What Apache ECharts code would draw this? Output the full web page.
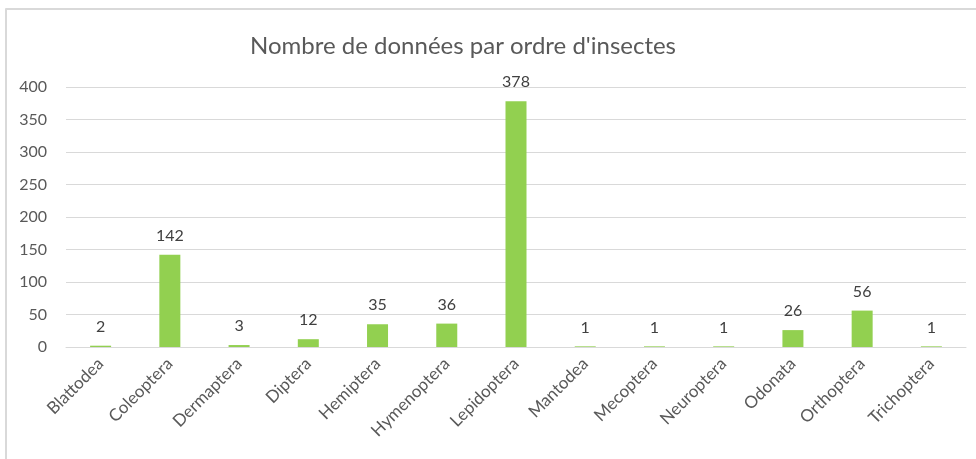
<!DOCTYPE html>
<html>
<head>
<meta charset="utf-8">
<script src="https://cdn.jsdelivr.net/npm/echarts@6/dist/echarts.min.js"></script>
<style>
  html, body { margin: 0; padding: 0; background: #fff; }
  #chart { width: 976px; height: 459px; }
</style>
</head>
<body>
<div id="chart"></div>
<script>
// Données
const orders = ['Blattodea', 'Coleoptera', 'Dermaptera', 'Diptera', 'Hemiptera', 'Hymenoptera',
  'Lepidoptera', 'Mantodea', 'Mecoptera', 'Neuroptera', 'Odonata', 'Orthoptera', 'Trichoptera']
const counts = [2, 142, 3, 12, 35, 36, 378, 1, 1, 1, 26, 56, 1]
const titleText = "Nombre de données par ordre d'insectes"

const font = 'Lato, "Open Sans", sans-serif'
const textColor = '#595959'
const gridColor = '#d9d9d9'

const myChart = echarts.init(document.getElementById('chart'))

const option = {
  animation: false,
  textStyle: { fontFamily: font },
  title: {
    text: titleText,
    left: 458,
    top: 29,
    textAlign: 'center',
    textStyle: { fontFamily: font, fontSize: 24, fontWeight: 'normal', color: textColor }
  },
  // cadre du graphique (coin haut gauche visible)
  graphic: [
    { type: 'line', shape: { x1: 5.5, y1: 9, x2: 976, y2: 9 }, style: { stroke: gridColor, lineWidth: 2 } },
    { type: 'line', shape: { x1: 6, y1: 8.5, x2: 6, y2: 459 }, style: { stroke: gridColor, lineWidth: 2 } }
  ],
  grid: { left: 66, right: 10, top: 87, bottom: 112 },
  xAxis: {
    type: 'category',
    data: orders,
    axisLine: { lineStyle: { color: gridColor, width: 1 } },
    axisTick: { show: false },
    axisLabel: {
      rotate: 45,
      interval: 0,
      margin: 14,
      color: textColor,
      fontSize: 17,
      fontFamily: font
    }
  },
  yAxis: {
    type: 'value',
    min: 0,
    max: 400,
    interval: 50,
    axisLine: { show: false },
    axisTick: { show: false },
    splitLine: { lineStyle: { color: gridColor, width: 1 } },
    axisLabel: { color: textColor, fontSize: 16, margin: 19, fontFamily: font }
  },
  series: [
    {
      type: 'bar',
      data: counts,
      barWidth: 21,
      itemStyle: { color: '#92D050' },
      label: {
        show: true,
        position: 'top',
        distance: 11,
        color: '#404040',
        fontSize: 16,
        fontFamily: font
      }
    }
  ]
}

myChart.setOption(option)
</script>
</body>
</html>
